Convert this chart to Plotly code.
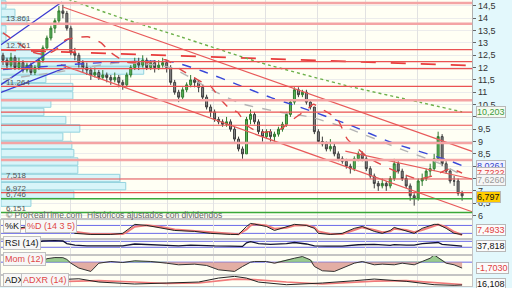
import numpy as np
import plotly.graph_objects as go

W, H = 512, 288
PLOT_R = 472  # right edge of plotting area (px)

# ---------------- price candles (weekly) ----------------
opens = [12.5,12.3,12.1,12.4,12.0,12.2,11.9,12.1,11.8,12.0,
         12.3,12.8,13.2,13.6,13.9,14.3,14.2,13.6,12.6,12.5,
         12.2,12.0,11.9,11.7,11.8,11.6,11.7,11.6,11.5,11.6,
         11.4,11.3,11.7,12.0,12.2,12.1,12.3,12.0,12.2,12.0,
         12.1,12.2,12.0,11.4,11.0,10.8,11.1,11.3,11.5,11.4,
         11.2,10.8,10.4,10.2,9.9,9.8,9.7,9.8,9.5,9.1,
         8.7,8.5,9.9,10.1,9.8,9.4,9.2,9.4,9.2,9.3,
         9.5,9.7,10.1,10.6,11.1,10.9,11.0,10.6,10.4,9.4,
         9.0,8.9,8.7,8.8,8.5,8.3,8.2,8.0,7.9,8.3,
         8.5,8.3,7.9,7.6,7.3,7.2,7.3,7.2,7.5,8.1,
         7.8,7.5,7.2,6.8,6.7,7.4,7.5,7.8,7.9,8.3,
         9.2,8.1,7.8,7.4,7.4,6.9]
highs = [12.6,12.4,12.6,12.5,12.4,12.3,12.2,12.2,12.1,12.4,
         12.9,13.3,13.7,14.0,14.5,14.55,14.3,13.7,12.8,12.6,
         12.3,12.2,12.0,12.0,11.9,11.9,11.8,11.7,11.8,11.7,
         11.5,11.8,12.1,12.4,12.4,12.5,12.4,12.3,12.3,12.3,
         12.4,12.3,12.1,11.5,11.1,11.2,11.4,11.7,11.6,11.5,
         11.3,10.9,10.5,10.3,10.0,9.9,10.0,9.9,9.6,9.2,
         8.8,10.0,10.3,10.2,9.9,9.5,9.5,9.5,9.4,9.6,
         9.8,10.2,10.7,11.2,11.2,11.1,11.1,10.7,10.4,9.5,
         9.2,9.0,9.1,8.9,8.6,8.4,8.3,8.1,8.4,8.6,
         8.6,8.4,8.0,7.7,7.4,7.5,7.4,7.6,8.3,8.2,
         7.9,7.6,7.3,6.9,7.5,7.7,7.9,8.1,8.5,9.4,
         9.3,8.2,7.9,7.6,7.5,7.0]
lows = [12.1,11.9,12.0,11.9,11.9,11.8,11.8,11.7,11.7,11.9,
        12.2,12.7,13.1,13.4,13.8,14.0,13.5,12.5,12.3,12.0,
        11.8,11.7,11.5,11.6,11.5,11.5,11.4,11.3,11.4,11.2,
        11.1,11.2,11.6,11.9,11.9,12.0,11.9,11.9,11.8,11.9,
        12.0,11.8,11.3,10.9,10.6,10.7,11.0,11.2,11.2,11.0,
        10.7,10.3,10.0,9.8,9.7,9.6,9.6,9.4,9.0,8.6,
        8.3,8.5,9.7,9.7,9.3,9.0,9.1,9.0,9.0,9.2,
        9.4,9.6,10.0,10.5,10.8,10.8,10.5,10.3,9.3,8.9,
        8.8,8.6,8.6,8.4,8.2,8.1,7.9,7.7,7.8,8.2,
        8.2,7.8,7.5,7.1,7.0,7.1,7.0,7.1,7.4,7.7,
        7.4,7.1,6.6,6.4,6.6,7.2,7.4,7.6,7.8,8.2,
        8.0,7.7,7.3,7.2,6.8,6.6]
closes = [12.3,12.1,12.4,12.0,12.2,11.9,12.1,11.8,12.0,12.3,
          12.8,13.2,13.6,13.9,14.3,14.2,13.6,12.6,12.5,12.2,
          12.0,11.9,11.7,11.8,11.6,11.7,11.6,11.5,11.6,11.4,
          11.3,11.7,12.0,12.2,12.1,12.3,12.0,12.2,12.0,12.1,
          12.2,12.0,11.4,11.0,10.8,11.1,11.3,11.5,11.4,11.2,
          10.8,10.4,10.2,9.9,9.8,9.7,9.8,9.5,9.1,8.7,
          8.5,9.9,10.1,9.8,9.4,9.2,9.4,9.2,9.3,9.5,
          9.7,10.1,10.6,11.1,10.9,11.0,10.6,10.4,9.4,9.0,
          8.9,8.7,8.8,8.5,8.3,8.2,8.0,7.9,8.3,8.5,
          8.3,7.9,7.6,7.3,7.2,7.3,7.2,7.5,8.1,7.8,
          7.5,7.2,6.8,6.7,7.4,7.5,7.8,7.9,8.3,9.2,
          8.1,7.8,7.4,7.4,6.9,6.797]
idx = list(range(len(closes)))
grid_idx = [17, 29.5, 41.25, 52.75, 65.75, 78.75, 90.75, 103.75]

# ---------------- moving averages ----------------
ma_green_x = [15, 29.5, 44.5, 64.5, 87, 104.5, 115]
ma_green_y = [14.85, 14.02, 13.25, 12.2, 11.23, 10.59, 10.203]
ma_blue_x = [0, 7, 24.5, 42, 50.25, 58.75, 67, 73.75, 87, 97, 112, 115]
ma_blue_y = [11.92, 12.0, 12.2, 12.24, 11.84, 11.31, 10.79, 10.43, 9.66, 8.98, 8.21, 8.0261]
ma_gray_x = [0, 14.5, 29.5, 42, 52, 59.5, 69.5, 77, 87, 99.5, 109.5, 115]
ma_gray_y = [11.52, 11.84, 12.2, 12.0, 11.12, 10.55, 10.19, 9.99, 9.5, 8.7, 8.1, 7.626]
ma_red_x = [0, 3.25, 7, 10.75, 13.25, 15.75, 18.25, 21.25, 24.5, 27, 30.75, 35.75, 40.75,
            44.5, 49.5, 52, 54.5, 57, 58.75, 61.25, 64.5, 69.5, 72.75, 76.25, 77.75, 80.75,
            83.75, 86.25, 89.5, 92, 97, 103.75, 107.75, 112, 115]
ma_red_y = [13.41, 13.05, 12.65, 12.53, 12.73, 13.13, 13.21, 13.25, 13.01, 12.61, 12.24, 12.2, 12.32,
            11.92, 11.44, 11.24, 10.71, 10.31, 10.19, 9.63, 9.38, 9.5, 9.91, 10.31, 10.51, 10.23,
            9.91, 9.1, 8.62, 8.3, 7.89, 7.49, 7.61, 7.89, 7.7222]

# ---------------- trend lines ----------------
tl_x0 = [15, 14.5, 85.75, -0.5, -0.5, -0.5, -0.5]
tl_y0 = [14.46, 12.12, 8.61, 12.93, 11.31, 10.99, 12.72]
tl_x1 = [117.5, 117.5, 117.5, 14.75, 16.5, 15.75, 117.5]
tl_y1 = [8.6, 6.15, 7.48, 14.66, 13.17, 12.0, 12.08]
tl_style = [('#e85a5a', 1.2, 'solid'), ('#e85a5a', 1.2, 'solid'), ('#e85a5a', 1.2, 'solid'),
            ('#3a3ad0', 1.3, 'solid'), ('#3a3ad0', 1.3, 'solid'), ('#3a3ad0', 1.3, 'solid'),
            ('#e83c3c', 1.8, 'longdash')]

# ---------------- horizontal levels ----------------
levels_red = [12.73, 12.24, 11.96, 11.24, 10.19, 9.66, 7.48, 6.93]
levels_pink = [14.62, 13.775, 10.67, 8.94, 8.25]
levels_green = [6.68, 6.12]

# ---------------- volume by price ----------------
vp_price = [6.52, 6.85, 7.19, 7.52, 7.86, 8.19, 8.53, 8.86, 9.20, 9.53, 9.87, 10.20, 10.54,
            10.87, 11.21, 11.54, 11.88, 12.21, 12.55, 12.88, 13.22, 13.55, 13.89, 14.22, 14.56]
vp_volume = [30, 73, 125, 119, 77, 77, 73, 71, 62, 79, 65, 43, 50,
             72, 72, 45, 143, 143, 40, 20, 5, 5, 26, 14, 5]
vp_label_price = [13.861, 12.761, 11.264, 7.518, 6.972, 6.746, 6.151]
vp_label_text = ['13.861', '12.761', '11.264', '7,518', '6,972', '6,746', '6,151']

# ---------------- indicators ----------------
st_x = [0, 4, 9, 13, 15, 17, 18, 22, 27, 30, 31, 33, 36, 39, 43, 48, 52, 57, 59, 61, 62, 63,
        66, 68, 71, 73, 76, 78, 79, 82, 85, 88, 90, 93, 95, 97, 98, 101, 103, 105, 108, 109,
        111, 113, 115]
st_k = [40, 60, 85, 95, 95, 42, 20, 12, 12, 20, 42, 88, 80, 65, 42, 35, 20, 12, 12, 72, 95, 90,
        72, 42, 72, 88, 80, 58, 20, 12, 20, 58, 72, 35, 20, 42, 65, 35, 20, 58, 88, 88,
        58, 20, 12]
st_d = [45, 55, 75, 90, 94, 60, 32, 16, 13, 16, 30, 70, 82, 72, 50, 38, 25, 15, 13, 50, 80, 88,
        80, 55, 62, 80, 82, 65, 35, 16, 16, 45, 65, 45, 28, 35, 55, 45, 28, 45, 78, 86,
        68, 32, 7.4933]
rsi_x = [0, 4, 8, 10, 13, 15, 16, 18, 21, 24, 30, 33, 36, 39, 42, 44, 47, 50, 53, 57, 60, 61, 62,
         64, 67, 71, 73, 76, 78, 81, 85, 89, 93, 97, 98, 101, 103, 105, 108, 109, 110, 112, 115]
rsi_v = [52, 50, 62, 72, 75, 72, 55, 45, 40, 39, 40, 52, 50, 48, 42, 40, 45, 40, 39, 38, 36, 60, 68,
         55, 50, 55, 62, 52, 39, 38, 37, 47, 50, 43, 48, 45, 45, 55, 59, 62, 50, 45, 37.818]
mom_x = [0, 4, 8, 10, 11, 13, 15, 16, 17, 19, 22, 24, 27, 30, 33, 37, 41, 44, 48, 51, 54, 58, 60,
         62, 63, 66, 68, 71, 73, 75, 77, 78, 80, 83, 85, 88, 90, 93, 95, 98, 100, 103, 105, 107,
         108, 110, 111, 113, 115]
mom_v = [0.2, 0.0, 0.1, 0.3, 1.0, 1.33, 1.3, 0.8, -0.3, -1.7, -2.67, -0.3, 0.2, -0.1, 0.4, 0.2,
         -0.3, -0.76, -0.57, -0.95, -2.2, -2.67, -1.24, 0.0, 0.2, 0.2, -0.3, 0.67, 1.14, 1.62,
         0.67, -1.24, -2.48, -2.67, -1.71, -0.29, 0.2, -0.76, -0.57, -0.76, -0.29, -0.76, 0.2,
         1.14, 2.1, 0.67, -0.29, -0.76, -1.703]
adx_x = [0, 5, 10, 14, 19, 24, 33, 41, 49, 54, 58, 61, 64, 71, 80, 88, 93, 101, 108, 113, 115]
adx_v = [22, 24, 25, 26.7, 28.7, 22.1, 18.1, 20.1, 22.1, 30.1, 33.5, 30, 22, 16.7, 20.1, 24.7,
         28.1, 23.5, 16.7, 15.5, 16.108]
adxr_x = [0, 10, 19, 24, 33, 41, 49, 54, 58, 63, 71, 80, 88, 93, 101, 108, 115]
adxr_v = [20, 22, 25, 25, 22, 19, 20, 24, 28, 27, 22, 18, 21, 24, 25, 21, 17]

# last-value tags: value, text, text colour, background
last_labels = [(10.203, '10,203', '#3c9a3c', '#f4faf0'), (8.0261, '8,0261', '#3344cc', '#f0f2ff'),
               (7.7222, '7,7222', '#e04040', '#fff4f4'), (7.626, '7,6260', '#9a9a9a', '#f6f6f6'),
               (6.797, '6,797', '#111111', '#ffcc00')]
last_shift = [0, 0, 0, -5, -1]
sub_last_text = ['7,4933', '37,818', '-1,7030', '16,108']

# price-axis ticks (labels hidden under the last-value tags are left blank)
tickvals = [6, 6.5, 7, 7.5, 8, 8.5, 9, 9.5, 10, 10.5, 11, 11.5, 12, 12.5, 13, 13.5, 14, 14.5]
tick_hidden = [7.5, 8, 10]

# ======================================================
FONT = 'Liberation Sans, Arial, sans-serif'
def py(p):
    return 1 - p / H

fig = go.Figure()

fig.add_trace(go.Bar(x=vp_volume, y=vp_price, orientation='h', xaxis='x', yaxis='y',
                     width=0.3, marker=dict(color='#d8f5f9', line=dict(color='#93d3de', width=1)),
                     hoverinfo='skip'))

fig.add_trace(go.Candlestick(x=idx, open=opens, high=highs, low=lows, close=closes,
                             xaxis='x2', yaxis='y', whiskerwidth=0,
                             increasing=dict(line=dict(color='#2f7a2f', width=1), fillcolor='#5cb85c'),
                             decreasing=dict(line=dict(color='#3c3c3c', width=1), fillcolor='#8c8c8c'),
                             hoverinfo='skip'))

for x0, y0, x1, y1, (c, w, d) in zip(tl_x0, tl_y0, tl_x1, tl_y1, tl_style):
    fig.add_trace(go.Scatter(x=[x0, x1], y=[y0, y1], mode='lines', xaxis='x2', yaxis='y',
                             line=dict(color=c, width=w, dash=d), hoverinfo='skip'))

for xs, ys, c, d in [(ma_green_x, ma_green_y, '#6cb04a', 'dot'),
                     (ma_gray_x, ma_gray_y, '#b4b4b4', 'dash'),
                     (ma_blue_x, ma_blue_y, '#3848d8', 'dash'),
                     (ma_red_x, ma_red_y, '#e04848', 'dash')]:
    fig.add_trace(go.Scatter(x=xs, y=ys, mode='lines', xaxis='x2', yaxis='y',
                             line=dict(color=c, width=1.4, dash=d, shape='spline', smoothing=0.6),
                             hoverinfo='skip'))

# stochastic
fig.add_trace(go.Scatter(x=st_x, y=st_d, mode='lines', xaxis='x3', yaxis='y3',
                         line=dict(color='#f07a7a', width=2), hoverinfo='skip'))
fig.add_trace(go.Scatter(x=st_x, y=st_k, mode='lines', xaxis='x3', yaxis='y3',
                         line=dict(color='#222222', width=1), hoverinfo='skip'))
# rsi
fig.add_trace(go.Scatter(x=rsi_x, y=rsi_v, mode='lines', xaxis='x4', yaxis='y4',
                         line=dict(color='#111133', width=1.3), hoverinfo='skip'))
# momentum
mom_arr = np.array(mom_v)
fig.add_trace(go.Scatter(x=mom_x, y=np.clip(mom_arr, 0, None), mode='lines', xaxis='x5', yaxis='y5',
                         fill='tozeroy', fillcolor='rgba(120,185,110,0.75)', line=dict(width=0),
                         hoverinfo='skip'))
fig.add_trace(go.Scatter(x=mom_x, y=np.clip(mom_arr, None, 0), mode='lines', xaxis='x5', yaxis='y5',
                         fill='tozeroy', fillcolor='rgba(215,140,130,0.7)', line=dict(width=0),
                         hoverinfo='skip'))
fig.add_trace(go.Scatter(x=mom_x, y=mom_v, mode='lines', xaxis='x5', yaxis='y5',
                         line=dict(color='#333333', width=1), hoverinfo='skip'))
# adx
fig.add_trace(go.Scatter(x=adxr_x, y=adxr_v, mode='lines', xaxis='x6', yaxis='y6',
                         line=dict(color='#f07a7a', width=1.6), hoverinfo='skip'))
fig.add_trace(go.Scatter(x=adx_x, y=adx_v, mode='lines', xaxis='x6', yaxis='y6',
                         line=dict(color='#222222', width=1), hoverinfo='skip'))

# ---------------- shapes ----------------
shapes = []
shapes.append(dict(type='rect', xref='paper', yref='paper', x0=PLOT_R / W, x1=1, y0=0, y1=1,
                   fillcolor='#e3f8fc', line=dict(width=0), layer='below'))
for v in levels_pink:
    shapes.append(dict(type='line', xref='x domain', yref='y', x0=0, x1=1, y0=v, y1=v,
                       line=dict(color='#f4a4a4', width=2.5), layer='above'))
for v in levels_red:
    shapes.append(dict(type='line', xref='x domain', yref='y', x0=0, x1=1, y0=v, y1=v,
                       line=dict(color='#ea5252', width=1.2), layer='above'))
for v in levels_green:
    shapes.append(dict(type='line', xref='x domain', yref='y', x0=0, x1=1, y0=v, y1=v,
                       line=dict(color='#3aa83a', width=1.5), layer='above'))
for ax, vals in [('3', [20, 80]), ('4', [30, 70]), ('5', [0])]:
    for v in vals:
        shapes.append(dict(type='line', xref='x%s domain' % ax, yref='y%s' % ax, x0=0, x1=1,
                           y0=v, y1=v, line=dict(color='#6a6ae8', width=1), layer='below'))

# ---------------- annotations ----------------
ann = []
def fmt(v):
    return ('%g' % v).replace('.', ',')

for v, t in zip(vp_label_price, vp_label_text):
    ann.append(dict(x=3 / W, xref='paper', y=v, yref='y', text=t,
                    showarrow=False, xanchor='left', yanchor='middle', yshift=3,
                    font=dict(family=FONT, size=8, color='#555555')))
ann.append(dict(x=3 / W, xref='paper', y=py(216.5), yref='paper',
                text='© ProRealTime.com  Históricos ajustados con dividendos', showarrow=False,
                xanchor='left', yanchor='middle', font=dict(family=FONT, size=8.5, color='#6a6a6a')))
for (v, t, c, bg), sh in zip(last_labels, last_shift):
    ann.append(dict(x=475.5 / W, xref='paper', y=v, yref='y', text=t, showarrow=False,
                    xanchor='left', yanchor='middle', yshift=sh, bgcolor=bg, bordercolor='#b8b8b8',
                    borderwidth=1, borderpad=0, font=dict(family=FONT, size=9, color=c)))

sub_last = [(st_d[-1], 'y3', '#e04040', 5), (rsi_v[-1], 'y4', '#111111', 0),
            (mom_v[-1], 'y5', '#e04040', 0), (adx_v[-1], 'y6', '#111111', 1)]
for (v, yr, c, sh), t in zip(sub_last, sub_last_text):
    ann.append(dict(x=475.5 / W, xref='paper', y=v, yref=yr, text=t, showarrow=False,
                    xanchor='left', yanchor='middle', yshift=sh, bgcolor='#fbfbfb',
                    bordercolor='#b8b8b8', borderwidth=1, borderpad=0,
                    font=dict(family=FONT, size=9, color=c)))

panel_labels = [('%K', '#111111', 2, 227.5), ('%D (14 3 5)', '#e04848', 24, 227.5),
                ('RSI (14)', '#111111', 2, 245), ('Mom (12)', '#e04848', 2, 261),
                ('ADX', '#111111', 2, 282), ('ADXR (14)', '#e04848', 20, 282)]
for t, c, x, y in panel_labels:
    ann.append(dict(x=x / W, xref='paper', y=py(y), yref='paper', text=t, showarrow=False,
                    xanchor='left', yanchor='middle', bgcolor='#f7f7f7', bordercolor='#c0c0c0',
                    borderwidth=1, borderpad=1, font=dict(family=FONT, size=9, color=c)))

# ---------------- axes ----------------
ticktext = ['' if v in tick_hidden else fmt(v) for v in tickvals]
XR = [-0.5, 117.5]
xdom = [0, PLOT_R / W]
sub_x = dict(domain=xdom, range=XR, showgrid=True, gridcolor='#e2e2e2', tickvals=grid_idx,
             showticklabels=False, ticks='', zeroline=False, showline=True, mirror=True,
             linecolor='#c4c4c4', fixedrange=True)
sub_y = dict(side='right', showgrid=False, zeroline=False, showticklabels=False, ticks='',
             showline=True, mirror=True, linecolor='#c4c4c4', fixedrange=True)

layout = dict(
    width=W, height=H, margin=dict(l=0, r=0, t=0, b=0),
    paper_bgcolor='#e3f8fc', plot_bgcolor='#fffff4', showlegend=False,
    font=dict(family=FONT, size=9, color='#333333'),
    bargap=0,
    xaxis=dict(domain=xdom, range=[0, 472], showgrid=False, showticklabels=False, ticks='',
               zeroline=False, showline=True, linecolor='#c4c4c4', fixedrange=True),
    xaxis2=dict(overlaying='x', anchor='y', range=XR, showgrid=True, gridcolor='#e2e2e2',
                tickvals=grid_idx, showticklabels=False, ticks='', zeroline=False,
                rangeslider=dict(visible=False), fixedrange=True),
    yaxis=dict(domain=[py(220), 1], range=[5.879, 14.742], anchor='x', side='right',
               tickvals=tickvals, ticktext=ticktext, ticks='outside', ticklen=3, tickcolor='#666666',
               tickfont=dict(family=FONT, size=9, color='#333333'), showgrid=True,
               gridcolor='#ececec', zeroline=False, showline=True, linecolor='#b0b0b0',
               fixedrange=True),
    xaxis3=dict(sub_x, anchor='y3'), yaxis3=dict(sub_y, anchor='x3', domain=[py(240), py(222)], range=[-17.5, 117.5]),
    xaxis4=dict(sub_x, anchor='y4'), yaxis4=dict(sub_y, anchor='x4', domain=[py(256), py(241.5)], range=[-16.7, 80]),
    xaxis5=dict(sub_x, anchor='y5'), yaxis5=dict(sub_y, anchor='x5', domain=[py(276), py(257.5)], range=[-3.43, 1.86]),
    xaxis6=dict(sub_x, anchor='y6'), yaxis6=dict(sub_y, anchor='x6', domain=[0, py(277.5)], range=[14.1, 35.1]),
    shapes=shapes, annotations=ann,
)
fig.update_layout(**layout)
fig.write_html('out.html', config=dict(displayModeBar=False, staticPlot=True))
